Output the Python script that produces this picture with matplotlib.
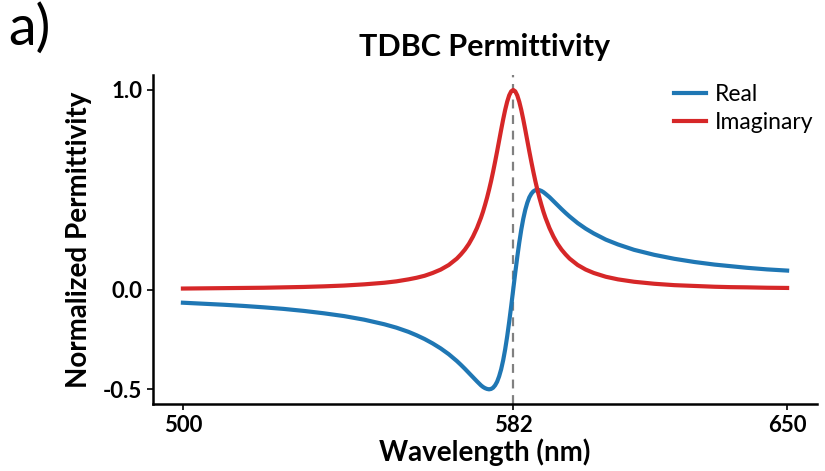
import matplotlib.pyplot as plt

# -------------------------
# Data
# -------------------------
wavelength = [500, 505, 510, 515, 520, 525, 530, 535, 540, 545,
              550, 553, 556, 558, 560, 562, 564, 566, 568, 569,
              570, 571, 572, 573, 574, 574.5, 575, 575.5, 576, 576.5,
              577, 577.5, 578, 578.5, 579, 579.5, 580, 580.5, 581, 581.5,
              582, 582.5, 583, 583.5, 584, 584.5, 585, 585.5, 586, 586.5,
              587, 587.5, 588, 588.5, 589, 589.5, 590, 591, 592, 593,
              594, 595, 596, 598, 600, 602, 605, 608, 612, 617,
              622, 627, 632, 636, 640, 645, 650]

real_part = [-0.066, -0.071, -0.076, -0.082, -0.089, -0.097, -0.107, -0.119, -0.133, -0.151,
             -0.174, -0.191, -0.212, -0.229, -0.248, -0.270, -0.295, -0.324, -0.358, -0.377,
             -0.397, -0.418, -0.439, -0.460, -0.480, -0.488, -0.494, -0.498, -0.500, -0.498,
             -0.492, -0.480, -0.462, -0.435, -0.400, -0.355, -0.300, -0.235, -0.162, -0.083,
             0.000, 0.083, 0.162, 0.235, 0.300, 0.355, 0.400, 0.435, 0.462, 0.480,
             0.492, 0.498, 0.500, 0.498, 0.494, 0.488, 0.480, 0.463, 0.443, 0.423,
             0.403, 0.384, 0.366, 0.333, 0.305, 0.281, 0.250, 0.226, 0.199, 0.174,
             0.154, 0.138, 0.125, 0.117, 0.109, 0.101, 0.095]

imag_part = [0.005, 0.006, 0.007, 0.008, 0.009, 0.011, 0.013, 0.016, 0.020, 0.026,
             0.034, 0.041, 0.051, 0.059, 0.069, 0.083, 0.100, 0.123, 0.155, 0.176,
             0.200, 0.229, 0.265, 0.308, 0.360, 0.390, 0.424, 0.460, 0.500, 0.543,
             0.590, 0.640, 0.692, 0.746, 0.800, 0.852, 0.900, 0.941, 0.973, 0.993,
             1.000, 0.993, 0.973, 0.941, 0.900, 0.852, 0.800, 0.746, 0.692, 0.640,
             0.590, 0.543, 0.500, 0.460, 0.424, 0.390, 0.360, 0.308, 0.265, 0.229,
             0.200, 0.176, 0.155, 0.123, 0.100, 0.083, 0.064, 0.051, 0.039, 0.029,
             0.022, 0.018, 0.014, 0.012, 0.011, 0.009, 0.008]

resonance = 582
x_ticks = [500, 582, 650]
y_ticks = [-0.5, 0.0, 1.0]

FONT = ["Lato", "DejaVu Sans"]
BLUE = "#1f77b4"
RED = "#d62728"

# -------------------------
# Plot
# -------------------------
plt.rcParams["font.family"] = FONT

fig = plt.figure(figsize=(8.25, 4.71), dpi=100, facecolor="white")
ax = fig.add_axes([0.1851, 0.1416, 0.8056, 0.6992])

ax.plot(wavelength, real_part, color=BLUE, lw=3.0, label="Real",
        solid_joinstyle="round")
ax.plot(wavelength, imag_part, color=RED, lw=3.0, label="Imaginary",
        solid_joinstyle="round")
ax.axvline(resonance, color="gray", ls=(0, (4, 3)), lw=1.6, zorder=0)

ax.set_xlim(492.5, 657.5)
ax.set_ylim(-0.575, 1.075)
ax.set_xticks(x_ticks)
ax.set_xticklabels([str(t) for t in x_ticks])
ax.set_yticks(y_ticks)
ax.set_yticklabels([f"{t:.1f}" for t in y_ticks])
ax.tick_params(labelsize=16, length=4, width=1.2)
for lbl in ax.get_xticklabels() + ax.get_yticklabels():
    lbl.set_fontweight("bold")

ax.spines["top"].set_visible(False)
ax.spines["right"].set_visible(False)
ax.spines["left"].set_linewidth(1.8)
ax.spines["bottom"].set_linewidth(1.8)

ax.set_xlabel("Wavelength (nm)", fontsize=20, fontweight="bold", labelpad=2)
ax.set_ylabel("Normalized Permittivity", fontsize=20, fontweight="bold", labelpad=8)
ax.set_title("TDBC Permittivity", fontsize=22, fontweight="bold", pad=14)

ax.legend(loc="upper right", bbox_to_anchor=(1.025, 1.035), frameon=False,
          fontsize=16.5, handlelength=1.4, handletextpad=0.4, labelspacing=0.3)

fig.text(0.010, 0.995, "a)", fontsize=40, ha="left", va="top")

fig.savefig("out.png", dpi=100, facecolor="white")
